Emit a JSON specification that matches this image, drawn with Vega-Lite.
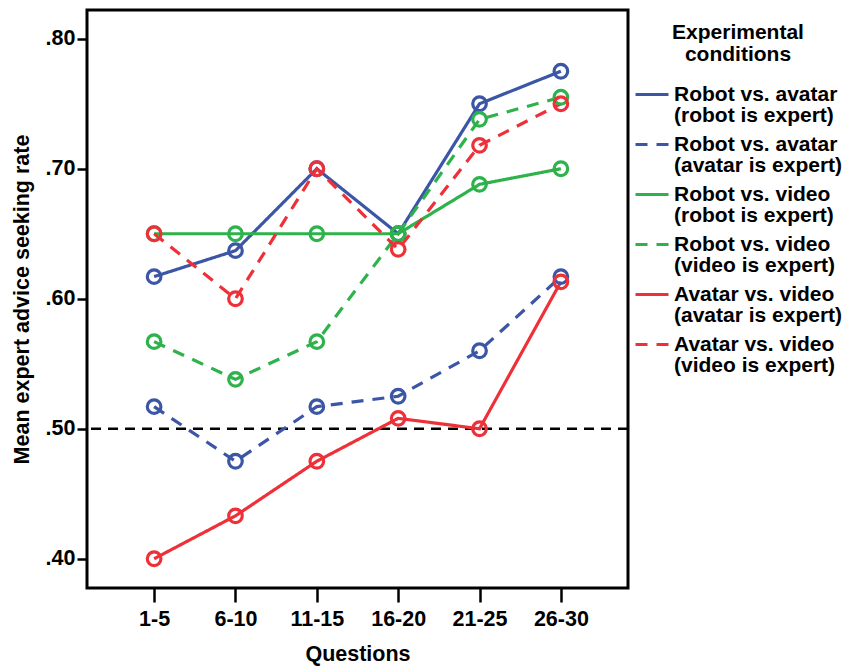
{
  "$schema": "https://vega.github.io/schema/vega-lite/v6.json",
  "width": 541,
  "height": 578,
  "autosize": {"type": "none"},
  "padding": {"left": 87, "top": 10, "right": 218, "bottom": 78},
  "background": "white",
  "config": {
    "font": "Liberation Sans",
    "view": {"stroke": "black", "strokeWidth": 3},
    "axis": {
      "domain": false,
      "grid": false,
      "labelFont": "Liberation Sans",
      "labelFontWeight": "bold",
      "labelFontSize": 21.5,
      "labelColor": "black",
      "titleFont": "Liberation Sans",
      "titleFontWeight": "bold",
      "titleFontSize": 21.5,
      "titleColor": "black",
      "tickColor": "black",
      "tickWidth": 2.5
    },
    "legend": {
      "labelFont": "Liberation Sans",
      "labelFontWeight": "bold",
      "labelFontSize": 21,
      "labelColor": "black",
      "titleFont": "Liberation Sans",
      "titleFontWeight": "bold",
      "titleFontSize": 21,
      "titleColor": "black",
      "titleLineHeight": 21.5
    }
  },
  "data": {
    "values": [
      {"q": "1-5", "s": "Robot vs. avatar|(robot is expert)", "v": 0.617},
      {"q": "6-10", "s": "Robot vs. avatar|(robot is expert)", "v": 0.637},
      {"q": "11-15", "s": "Robot vs. avatar|(robot is expert)", "v": 0.700},
      {"q": "16-20", "s": "Robot vs. avatar|(robot is expert)", "v": 0.650},
      {"q": "21-25", "s": "Robot vs. avatar|(robot is expert)", "v": 0.750},
      {"q": "26-30", "s": "Robot vs. avatar|(robot is expert)", "v": 0.775},
      {"q": "1-5", "s": "Robot vs. avatar|(avatar is expert)", "v": 0.517},
      {"q": "6-10", "s": "Robot vs. avatar|(avatar is expert)", "v": 0.475},
      {"q": "11-15", "s": "Robot vs. avatar|(avatar is expert)", "v": 0.517},
      {"q": "16-20", "s": "Robot vs. avatar|(avatar is expert)", "v": 0.525},
      {"q": "21-25", "s": "Robot vs. avatar|(avatar is expert)", "v": 0.560},
      {"q": "26-30", "s": "Robot vs. avatar|(avatar is expert)", "v": 0.617},
      {"q": "1-5", "s": "Robot vs. video|(robot is expert)", "v": 0.650},
      {"q": "6-10", "s": "Robot vs. video|(robot is expert)", "v": 0.650},
      {"q": "11-15", "s": "Robot vs. video|(robot is expert)", "v": 0.650},
      {"q": "16-20", "s": "Robot vs. video|(robot is expert)", "v": 0.650},
      {"q": "21-25", "s": "Robot vs. video|(robot is expert)", "v": 0.688},
      {"q": "26-30", "s": "Robot vs. video|(robot is expert)", "v": 0.700},
      {"q": "1-5", "s": "Robot vs. video|(video is expert)", "v": 0.567},
      {"q": "6-10", "s": "Robot vs. video|(video is expert)", "v": 0.538},
      {"q": "11-15", "s": "Robot vs. video|(video is expert)", "v": 0.567},
      {"q": "16-20", "s": "Robot vs. video|(video is expert)", "v": 0.650},
      {"q": "21-25", "s": "Robot vs. video|(video is expert)", "v": 0.738},
      {"q": "26-30", "s": "Robot vs. video|(video is expert)", "v": 0.755},
      {"q": "1-5", "s": "Avatar vs. video|(avatar is expert)", "v": 0.400},
      {"q": "6-10", "s": "Avatar vs. video|(avatar is expert)", "v": 0.433},
      {"q": "11-15", "s": "Avatar vs. video|(avatar is expert)", "v": 0.475},
      {"q": "16-20", "s": "Avatar vs. video|(avatar is expert)", "v": 0.508},
      {"q": "21-25", "s": "Avatar vs. video|(avatar is expert)", "v": 0.500},
      {"q": "26-30", "s": "Avatar vs. video|(avatar is expert)", "v": 0.613},
      {"q": "1-5", "s": "Avatar vs. video|(video is expert)", "v": 0.650},
      {"q": "6-10", "s": "Avatar vs. video|(video is expert)", "v": 0.600},
      {"q": "11-15", "s": "Avatar vs. video|(video is expert)", "v": 0.700},
      {"q": "16-20", "s": "Avatar vs. video|(video is expert)", "v": 0.638},
      {"q": "21-25", "s": "Avatar vs. video|(video is expert)", "v": 0.718},
      {"q": "26-30", "s": "Avatar vs. video|(video is expert)", "v": 0.750}
    ]
  },
  "encoding": {
    "x": {
      "field": "q",
      "type": "ordinal",
      "sort": ["1-5", "6-10", "11-15", "16-20", "21-25", "26-30"],
      "scale": {"type": "point", "padding": 0.825},
      "axis": {"title": "Questions", "labelAngle": 0, "tickSize": 14, "labelPadding": 6, "titlePadding": 14}
    },
    "y": {
      "field": "v",
      "type": "quantitative",
      "scale": {"domain": [0.3775, 0.8221], "nice": false, "zero": false},
      "axis": {
        "title": "Mean expert advice seeking rate",
        "values": [0.4, 0.5, 0.6, 0.7, 0.8],
        "labelExpr": "replace(format(datum.value, '.2f'), '0.', '.')",
        "tickSize": 10,
        "labelPadding": 2,
        "titlePadding": 12
      }
    }
  },
  "layer": [
    {
      "data": {"values": [{"ref": 0.5}]},
      "mark": {"type": "rule", "color": "black", "strokeWidth": 2.5, "strokeDash": [10, 7]},
      "encoding": {"y": {"field": "ref", "type": "quantitative"}, "x": null}
    },
    {
      "mark": {"type": "line", "strokeWidth": 3.2},
      "encoding": {
        "color": {
          "field": "s",
          "type": "nominal",
          "scale": {
            "domain": ["Robot vs. avatar|(robot is expert)", "Robot vs. avatar|(avatar is expert)", "Robot vs. video|(robot is expert)", "Robot vs. video|(video is expert)", "Avatar vs. video|(avatar is expert)", "Avatar vs. video|(video is expert)"],
            "range": ["#3C56A6", "#3C56A6", "#2EB24B", "#2EB24B", "#EE3039", "#EE3039"]
          },
          "legend": {
            "title": ["Experimental", "conditions"],
            "orient": "none",
            "legendX": 547,
            "legendY": 12,
            "padding": 0,
            "titleAnchor": "middle",
            "titleAlign": "center",
            "titlePadding": 12,
            "symbolType": "stroke",
            "symbolSize": 1089,
            "symbolStrokeWidth": 3,
            "labelOffset": 4,
            "labelLimit": 400,
            "rowPadding": 0,
            "labelExpr": "split(datum.label, '|')",
            "encode": {"labels": {"update": {"lineHeight": {"value": 21.5}}}}
          }
        },
        "strokeDash": {
          "field": "s",
          "type": "nominal",
          "scale": {
            "domain": ["Robot vs. avatar|(robot is expert)", "Robot vs. avatar|(avatar is expert)", "Robot vs. video|(robot is expert)", "Robot vs. video|(video is expert)", "Avatar vs. video|(avatar is expert)", "Avatar vs. video|(video is expert)"],
            "range": [[1, 0], [12, 9], [1, 0], [12, 9], [1, 0], [12, 9]]
          },
          "legend": {
            "title": ["Experimental", "conditions"],
            "orient": "none",
            "legendX": 547,
            "legendY": 12,
            "padding": 0,
            "titleAnchor": "middle",
            "titleAlign": "center",
            "titlePadding": 12,
            "symbolType": "stroke",
            "symbolSize": 1089,
            "symbolStrokeWidth": 3,
            "labelOffset": 4,
            "labelLimit": 400,
            "rowPadding": 0,
            "labelExpr": "split(datum.label, '|')",
            "encode": {"labels": {"update": {"lineHeight": {"value": 21.5}}}}
          }
        }
      }
    },
    {
      "mark": {"type": "point", "filled": false, "size": 185, "strokeWidth": 3.2, "opacity": 1},
      "encoding": {
        "color": {"field": "s", "type": "nominal"}
      }
    }
  ]
}
